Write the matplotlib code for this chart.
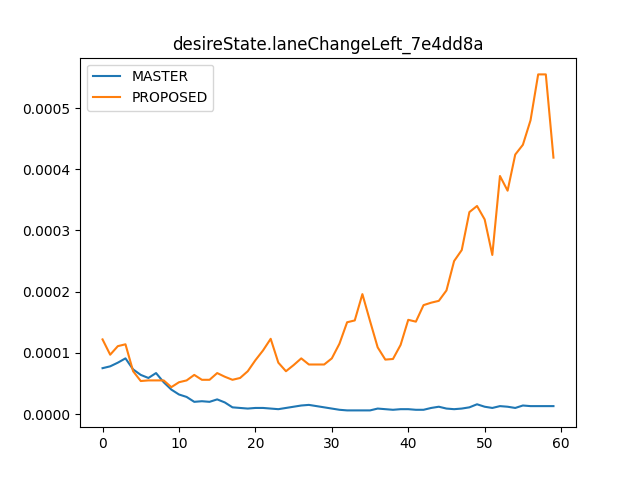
import matplotlib

matplotlib.use("Agg")

import matplotlib.pyplot as plt

TITLE = "desireState.laneChangeLeft_7e4dd8a"

master = [
    0.000075, 0.000078, 0.000084, 0.000091, 0.000073, 0.000064, 0.000059, 0.000067, 0.000052, 0.000040,
    0.000032, 0.000028, 0.000020, 0.000021, 0.000020, 0.000024, 0.000019, 0.000011, 0.000010, 0.000009,
    0.000010, 0.000010, 0.000009, 0.000008, 0.000010, 0.000012, 0.000014, 0.000015, 0.000013, 0.000011,
    0.000009, 0.000007, 0.000006, 0.000006, 0.000006, 0.000006, 0.000009, 0.000008, 0.000007, 0.000008,
    0.000008, 0.000007, 0.000007, 0.000010, 0.000012, 0.000009, 0.000008, 0.000009, 0.000011, 0.000016,
    0.000012, 0.000010, 0.000013, 0.000012, 0.000010, 0.000014, 0.000013, 0.000013, 0.000013, 0.000013,
]

proposed = [
    0.000122, 0.000097, 0.000111, 0.000114, 0.000070, 0.000054, 0.000055, 0.000055, 0.000055, 0.000044,
    0.000052, 0.000055, 0.000064, 0.000056, 0.000056, 0.000067, 0.000061, 0.000056, 0.000059, 0.000070,
    0.000088, 0.000104, 0.000123, 0.000084, 0.000070, 0.000080, 0.000091, 0.000081, 0.000081, 0.000081,
    0.000091, 0.000115, 0.000150, 0.000153, 0.000196, 0.000152, 0.000109, 0.000089, 0.000090, 0.000113,
    0.000154, 0.000151, 0.000178, 0.000182, 0.000185, 0.000202, 0.000250, 0.000268, 0.000330, 0.000340,
    0.000318, 0.000260, 0.000389, 0.000365, 0.000424, 0.000440, 0.000480, 0.000555, 0.000555, 0.000419,
]

fig, ax = plt.subplots(figsize=(6.4, 4.8), dpi=100)
ax.plot(range(len(master)), master, label="MASTER")
ax.plot(range(len(proposed)), proposed, label="PROPOSED")
ax.set_title(TITLE)
ax.legend(loc="upper left")
fig.savefig("out.png")
